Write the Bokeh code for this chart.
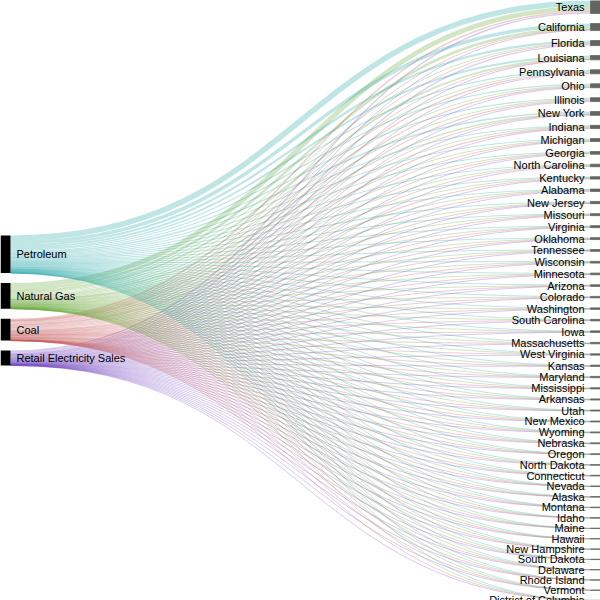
import numpy as np
from bokeh.plotting import figure
from bokeh.models import ColumnDataSource, Range1d
from bokeh.core.properties import value
from bokeh.embed import file_html
from bokeh.resources import INLINE

sources = ["Petroleum", "Natural Gas", "Coal", "Retail Electricity Sales"]
source_colors = ["#2aa8a8", "#6aaa3a", "#c85a5a", "#7a50c4"]

states = ["Texas", "California", "Florida", "Louisiana", "Pennsylvania", "Ohio",
          "Illinois", "New York", "Indiana", "Michigan", "Georgia", "North Carolina",
          "Kentucky", "Alabama", "New Jersey", "Missouri", "Virginia", "Oklahoma",
          "Tennessee", "Wisconsin", "Minnesota", "Arizona", "Colorado", "Washington",
          "South Carolina", "Iowa", "Massachusetts", "West Virginia", "Kansas",
          "Maryland", "Mississippi", "Arkansas", "Utah", "New Mexico", "Wyoming",
          "Nebraska", "Oregon", "North Dakota", "Connecticut", "Nevada", "Alaska",
          "Montana", "Idaho", "Maine", "Hawaii", "New Hampshire", "South Dakota",
          "Delaware", "Rhode Island", "Vermont", "District of Columbia"]

petroleum = [5.5, 3.5, 2.2, 1.9, 1.3, 1.1, 1.1, 1.5, 0.8, 0.9, 0.95, 0.9, 0.7, 0.65,
             1.1, 0.64, 0.8, 0.63, 0.63, 0.51, 0.6, 0.56, 0.48, 0.68, 0.52, 0.5, 0.7,
             0.23, 0.43, 0.52, 0.46, 0.36, 0.3, 0.3, 0.18, 0.27, 0.36, 0.18, 0.38, 0.21,
             0.33, 0.18, 0.2, 0.24, 0.34, 0.15, 0.12, 0.13, 0.09, 0.12, 0.05]
natural_gas = [4.8, 2.5, 0.8, 1.8, 1.0, 1.0, 1.1, 1.4, 0.6, 1.0, 0.4, 0.2, 0.25, 0.45,
               0.65, 0.24, 0.3, 0.7, 0.22, 0.34, 0.37, 0.35, 0.42, 0.22, 0.18, 0.33, 0.42,
               0.1, 0.33, 0.2, 0.36, 0.24, 0.22, 0.22, 0.18, 0.16, 0.16, 0.07, 0.18, 0.21,
               0.23, 0.07, 0.12, 0.06, 0.01, 0.06, 0.05, 0.08, 0.08, 0.01, 0.06]
coal = [1.4, 0.1, 0.8, 0.2, 1.2, 1.3, 1.1, 0.2, 1.4, 0.7, 0.8, 0.85, 1.15, 0.85,
        0.07, 0.8, 0.4, 0.34, 0.54, 0.6, 0.48, 0.4, 0.42, 0.08, 0.45, 0.52, 0.07,
        0.85, 0.39, 0.32, 0.14, 0.33, 0.38, 0.29, 0.5, 0.38, 0.04, 0.4, 0.02, 0.06,
        0.01, 0.2, 0.01, 0.01, 0.02, 0.04, 0.09, 0.05, 0.01, 0.01, 0.01]
retail_electricity = [1.3, 0.9, 1.2, 0.3, 0.5, 0.5, 0.5, 0.7, 0.4, 0.3, 0.55, 0.55,
                      0.3, 0.35, 0.38, 0.32, 0.5, 0.23, 0.41, 0.25, 0.25, 0.29, 0.18,
                      0.52, 0.35, 0.15, 0.21, 0.12, 0.15, 0.26, 0.24, 0.17, 0.1, 0.09,
                      0.04, 0.09, 0.24, 0.05, 0.12, 0.12, 0.03, 0.05, 0.17, 0.09, 0.03,
                      0.05, 0.04, 0.04, 0.03, 0.07, 0.09]

W, H = 600, 600
node_w = 10
pad = 10

flows = np.array([petroleum, natural_gas, coal, retail_electricity], dtype=float)
n_src, n_tgt = flows.shape
total = flows.sum()
ky = (H - (n_tgt - 1) * pad) / total

src_h = flows.sum(axis=1) * ky
left_start = (H - (src_h.sum() + (n_src - 1) * pad)) / 2
src_y0 = left_start + np.concatenate([[0], np.cumsum(src_h[:-1] + pad)])

tgt_h = flows.sum(axis=0) * ky
tgt_y0 = np.concatenate([[0], np.cumsum(tgt_h[:-1] + pad)])

# links
rows = []
for i in range(n_src):
    for j in range(n_tgt):
        dy = flows[i, j] * ky
        sy = flows[i, :j].sum() * ky
        ty = flows[:i, j].sum() * ky
        rows.append((dy, node_w, src_y0[i] + sy + dy / 2, W - node_w,
                     tgt_y0[j] + ty + dy / 2, source_colors[i]))
rows.sort(key=lambda r: -r[0])
x0 = [r[1] for r in rows]
y0 = [r[2] for r in rows]
x1 = [r[3] for r in rows]
y1 = [r[4] for r in rows]
cx = [(a + b) / 2 for a, b in zip(x0, x1)]
link_src = ColumnDataSource(dict(
    x0=x0, y0=y0, x1=x1, y1=y1, cx0=cx, cy0=y0, cx1=cx, cy1=y1,
    w=[max(1.0, r[0]) for r in rows], c=[r[5] for r in rows]))

p = figure(width=W, height=H, x_range=Range1d(0, W), y_range=Range1d(H, 0),
           output_backend="svg", toolbar_location=None, min_border=0,
           x_axis_location=None, y_axis_location=None)
p.grid.visible = False
p.outline_line_color = None
p.background_fill_color = "white"

p.bezier(x0="x0", y0="y0", x1="x1", y1="y1", cx0="cx0", cy0="cy0",
         cx1="cx1", cy1="cy1", line_width="w", line_color="c",
         line_alpha=0.3, source=link_src)

# nodes
p.quad(left=0, right=node_w, top=list(src_y0), bottom=list(src_y0 + src_h),
       fill_color="#000000", line_color=None)
p.quad(left=W - node_w, right=W, top=list(tgt_y0), bottom=list(tgt_y0 + tgt_h),
       fill_color="#646464", line_color="#646464", line_width=0.8)

# labels
p.text(x=[node_w + 6] * n_src, y=list(src_y0 + src_h / 2), text=sources,
       text_align="left", text_baseline="middle", text_color="#000000",
       text_font=value("Liberation Sans"), text_font_size="11px")
p.text(x=[W - node_w - 6] * n_tgt, y=list(tgt_y0 + tgt_h / 2), text=states,
       text_align="right", text_baseline="middle", text_color="#000000",
       text_font=value("Liberation Sans"), text_font_size="11px")

open("out.html", "w").write(file_html(p, INLINE))
